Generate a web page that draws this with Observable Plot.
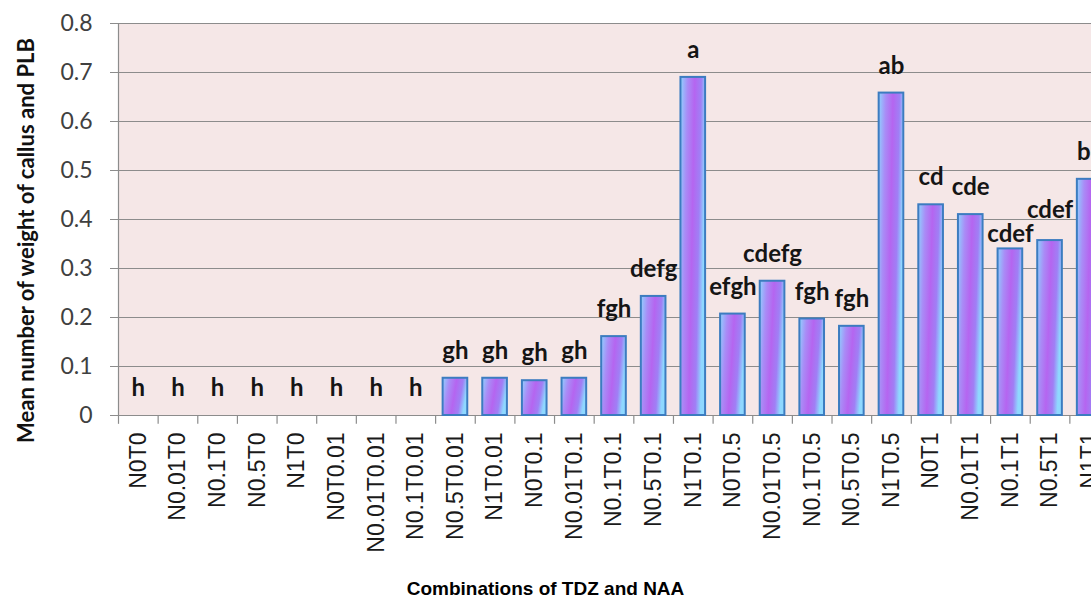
<!DOCTYPE html>
<html><head><meta charset="utf-8">
<script src="https://cdn.jsdelivr.net/npm/d3@7"></script>
<script src="https://cdn.jsdelivr.net/npm/@observablehq/plot@0.6"></script>
<style>
html,body{margin:0;padding:0;background:#fff;overflow:hidden;}
#wrap{width:1091px;height:610px;overflow:hidden;position:relative;}
#chart{width:1091px;overflow:hidden;}
#chart svg{display:block;max-width:none !important;}
#xtitle{position:absolute;left:0;width:1091px;top:578px;text-align:center;font:bold 19px "Liberation Sans",Arial,sans-serif;color:#000;line-height:22px;}
</style></head><body>
<div id="wrap"><div id="chart"></div><div id="xtitle">Combinations of TDZ and NAA</div></div>
<script>
const combinations = ["N0T0","N0.01T0","N0.1T0","N0.5T0","N1T0","N0T0.01","N0.01T0.01","N0.1T0.01","N0.5T0.01","N1T0.01","N0T0.1","N0.01T0.1","N0.1T0.1","N0.5T0.1","N1T0.1","N0T0.5","N0.01T0.5","N0.1T0.5","N0.5T0.5","N1T0.5","N0T1","N0.01T1","N0.1T1","N0.5T1","N1T1"];
const means = [0,0,0,0,0,0,0,0,0.076,0.076,0.071,0.076,0.161,0.243,0.690,0.207,0.274,0.197,0.182,0.658,0.430,0.410,0.340,0.357,0.482];
const letters = ["h","h","h","h","h","h","h","h","gh","gh","gh","gh","fgh","defg","a","efgh","cdefg","fgh","fgh","ab","cd","cde","cdef","cdef","bc"];
const yTicks = [0,0.1,0.2,0.3,0.4,0.5,0.6,0.7,0.8];
const yTitle = "Mean number of weight of callus and PLB";

const data = combinations.map((c,i)=>({combination:c, mean:means[i], letter:letters[i]}));

const W = 1112, ML = 118, MR = 3;
const step = (W - ML - MR) / combinations.length;
const grid = "#8c8c8c";
const letterStyle = {x: "combination", y: "mean", text: "letter", fontSize: 24, fontWeight: "bold", fontFamily: "Lato, sans-serif", fill: "#151515"};
const lowLabel = "N0.1T1", highLabel = "N0.5T1";

const chart = Plot.plot({
  width: W, height: 575,
  marginLeft: ML, marginRight: MR, marginTop: 23, marginBottom: 160,
  style: {background: "transparent", overflow: "hidden", maxWidth: "none"},
  x: {type: "band", domain: combinations, padding: 0, round: false, axis: null},
  y: {domain: [0, 0.8], axis: null},
  marks: [
    Plot.frame({fill: "#f5e7e7", stroke: null}),
    Plot.gridY(yTicks, {stroke: grid, strokeOpacity: 1, strokeWidth: 1.2}),
    Plot.ruleX(combinations, {x: d => d, dx: -step/2, y1: -0.018, y2: 0, stroke: grid, strokeWidth: 1.2}),
    Plot.ruleX(combinations.slice(0,1), {x: d => d, dx: -step/2, y1: 0, y2: 0.8, stroke: grid, strokeWidth: 1.2}),
    Plot.barY(data, {x: "combination", y: "mean", fill: "url(#barGrad)", stroke: "#3c7cc0", strokeWidth: 2, insetLeft: 7.5, insetRight: 7.5}),
    Plot.text(data, {...letterStyle, filter: d => d.combination !== lowLabel && d.combination !== highLabel, dy: -27}),
    Plot.text(data, {...letterStyle, filter: d => d.combination === lowLabel, dy: -15}),
    Plot.text(data, {...letterStyle, filter: d => d.combination === highLabel, dy: -30}),
    Plot.axisY(yTicks, {tickSize: 8, tickPadding: 18, stroke: grid, fill: "#404040", fontSize: 23, fontFamily: "Lato, sans-serif",
      tickFormat: d => d === 0 ? "0" : d.toFixed(1), label: yTitle, labelAnchor: "center", labelOffset: 100, labelArrow: "none"}),
    Plot.axisX({tickSize: 0, tickRotate: -90, tickPadding: 17, fontSize: 23, fontFamily: "Liberation Sans, Arial, sans-serif", fill: "#1a1a1a", label: null})
  ]
});

d3.select(chart).insert("defs", ":first-child").html(`
  <linearGradient id="barGrad" x1="0" y1="0" x2="1" y2="0.25">
    <stop offset="0" stop-color="#8fd3ff"/>
    <stop offset="0.28" stop-color="#a98cf6"/>
    <stop offset="0.55" stop-color="#b565f0"/>
    <stop offset="0.8" stop-color="#a07ff5"/>
    <stop offset="1" stop-color="#8fd8ff"/>
  </linearGradient>`);
const yLabel = d3.select(chart).select('[aria-label="y-axis label"]');
yLabel.attr("transform", (yLabel.attr("transform") || "") + " translate(0,21)");
yLabel.selectAll("text").attr("font-weight", "bold").attr("font-size", 22).attr("fill", "#111").attr("font-family", "Lato, sans-serif");
yLabel.attr("font-weight", "bold").attr("font-size", 22).attr("fill", "#111").attr("font-family", "Lato, sans-serif");
document.getElementById("chart").appendChild(chart);
</script></body></html>
